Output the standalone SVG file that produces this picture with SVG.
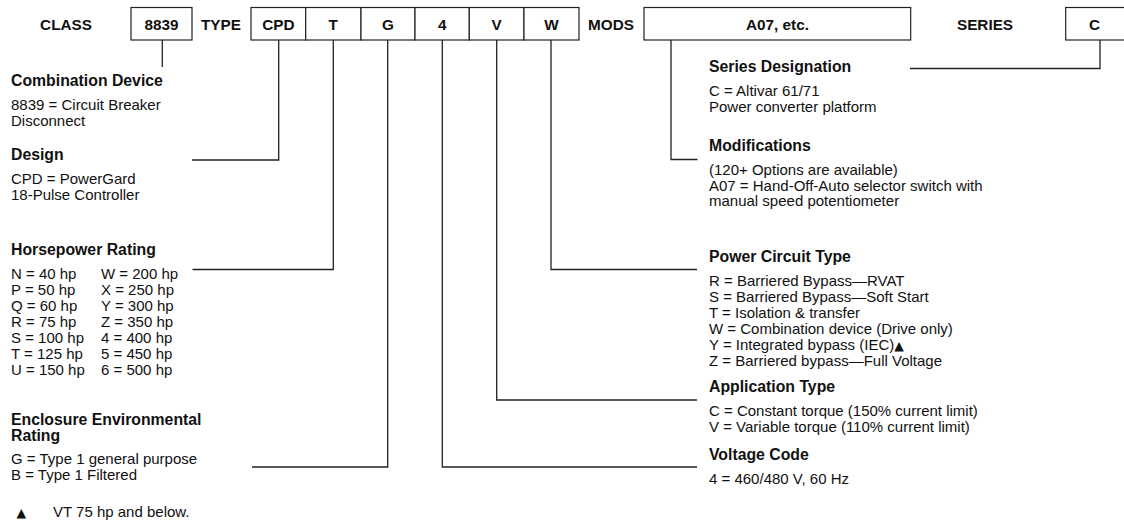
<svg xmlns="http://www.w3.org/2000/svg" width="1124" height="521" viewBox="0 0 1124 521">
<style>
text{font-family:"Liberation Sans",Arial,sans-serif;fill:#111}
.lbl{font-size:15.3px;font-weight:bold;text-anchor:middle}
.h{font-size:15.8px;font-weight:bold}
.t{font-size:15px}
.box{fill:#fff;stroke:#222;stroke-width:1.2}
.ln{fill:none;stroke:#222;stroke-width:1.3}
.tri{font-family:"DejaVu Sans",sans-serif;font-size:12.5px}
</style>
<rect width="1124" height="521" fill="#fff"/>
<g id="header">
<text class="lbl" x="66" y="29.5">CLASS</text>
<text class="lbl" x="221" y="29.5">TYPE</text>
<text class="lbl" x="611" y="29.5">MODS</text>
<text class="lbl" x="985" y="29.5">SERIES</text>
</g>
<g id="box-8839"><rect class="box" x="131" y="7.5" width="61" height="32.5"/><text class="lbl" x="161.5" y="29.5">8839</text></g>
<g id="box-cpd"><rect class="box" x="251" y="7.5" width="54.7" height="32.5"/><text class="lbl" x="278.3" y="29.5">CPD</text></g>
<g id="box-t"><rect class="box" x="305.7" y="7.5" width="55.3" height="32.5"/><text class="lbl" x="333.3" y="29.5">T</text></g>
<g id="box-g"><rect class="box" x="361" y="7.5" width="54" height="32.5"/><text class="lbl" x="388" y="29.5">G</text></g>
<g id="box-4"><rect class="box" x="415" y="7.5" width="54.3" height="32.5"/><text class="lbl" x="442.2" y="29.5">4</text></g>
<g id="box-v"><rect class="box" x="469.3" y="7.5" width="54.7" height="32.5"/><text class="lbl" x="496.7" y="29.5">V</text></g>
<g id="box-w"><rect class="box" x="524" y="7.5" width="55" height="32.5"/><text class="lbl" x="551.5" y="29.5">W</text></g>
<g id="box-mods"><rect class="box" x="644" y="7.5" width="266.7" height="32.5"/><text class="lbl" x="777.5" y="29.5">A07, etc.</text></g>
<g id="box-c"><rect class="box" x="1065.7" y="7.5" width="60" height="32.5"/><text class="lbl" x="1094.5" y="29.5">C</text></g>
<g id="connectors">
<path class="ln" d="M162.3 40V67"/>
<path class="ln" d="M278.7 40V160H192"/>
<path class="ln" d="M333.3 40V269.5H192.5"/>
<path class="ln" d="M387.7 40V467H252"/>
<path class="ln" d="M442.3 40V467H697"/>
<path class="ln" d="M496.7 40V400H697"/>
<path class="ln" d="M551 40V269.5H697"/>
<path class="ln" d="M671 40V159.5H697.5"/>
<path class="ln" d="M1100 40V68.5H910"/>
</g>
<g id="combination-device">
<text class="h" x="11" y="86">Combination Device</text>
<text class="t" x="11" y="110">8839 = Circuit Breaker</text>
<text class="t" x="11" y="126">Disconnect</text>
</g>
<g id="design">
<text class="h" x="11" y="160">Design</text>
<text class="t" x="11" y="183.5">CPD = PowerGard</text>
<text class="t" x="11" y="199.5">18-Pulse Controller</text>
</g>
<g id="horsepower">
<text class="h" x="11" y="255">Horsepower Rating</text>
<text class="t" x="11" y="278.5">N = 40 hp</text>
<text class="t" x="11" y="294.5">P = 50 hp</text>
<text class="t" x="11" y="310.5">Q = 60 hp</text>
<text class="t" x="11" y="326.5">R = 75 hp</text>
<text class="t" x="11" y="342.5">S = 100 hp</text>
<text class="t" x="11" y="358.5">T = 125 hp</text>
<text class="t" x="11" y="374.5">U = 150 hp</text>
<text class="t" x="101" y="278.5">W = 200 hp</text>
<text class="t" x="101" y="294.5">X = 250 hp</text>
<text class="t" x="101" y="310.5">Y = 300 hp</text>
<text class="t" x="101" y="326.5">Z = 350 hp</text>
<text class="t" x="101" y="342.5">4 = 400 hp</text>
<text class="t" x="101" y="358.5">5 = 450 hp</text>
<text class="t" x="101" y="374.5">6 = 500 hp</text>
</g>
<g id="enclosure">
<text class="h" x="11" y="424.5">Enclosure Environmental</text>
<text class="h" x="11" y="440.5">Rating</text>
<text class="t" x="11" y="464">G = Type 1 general purpose</text>
<text class="t" x="11" y="480">B = Type 1 Filtered</text>
</g>
<g id="footnote">
<text class="tri" x="16.5" y="517">▲</text>
<text class="t" x="53" y="517">VT 75 hp and below.</text>
</g>
<g id="series">
<text class="h" x="709" y="71.5">Series Designation</text>
<text class="t" x="709" y="95.5">C = Altivar 61/71</text>
<text class="t" x="709" y="111.5">Power converter platform</text>
</g>
<g id="modifications">
<text class="h" x="709" y="151">Modifications</text>
<text class="t" x="709" y="175">(120+ Options are available)</text>
<text class="t" x="709" y="190.5">A07 = Hand-Off-Auto selector switch with</text>
<text class="t" x="709" y="206">manual speed potentiometer</text>
</g>
<g id="power-circuit">
<text class="h" x="709" y="262">Power Circuit Type</text>
<text class="t" x="709" y="285.5">R = Barriered Bypass—RVAT</text>
<text class="t" x="709" y="301.5">S = Barriered Bypass—Soft Start</text>
<text class="t" x="709" y="317.5">T = Isolation &amp; transfer</text>
<text class="t" x="709" y="333.5">W = Combination device (Drive only)</text>
<text class="t" x="709" y="349.5">Y = Integrated bypass (IEC)<tspan class="tri">▲</tspan></text>
<text class="t" x="709" y="365.5">Z = Barriered bypass—Full Voltage</text>
</g>
<g id="application">
<text class="h" x="709" y="392">Application Type</text>
<text class="t" x="709" y="416">C = Constant torque (150% current limit)</text>
<text class="t" x="709" y="431.5">V = Variable torque (110% current limit)</text>
</g>
<g id="voltage">
<text class="h" x="709" y="460">Voltage Code</text>
<text class="t" x="709" y="483.5">4 = 460/480 V, 60 Hz</text>
</g>
</svg>
